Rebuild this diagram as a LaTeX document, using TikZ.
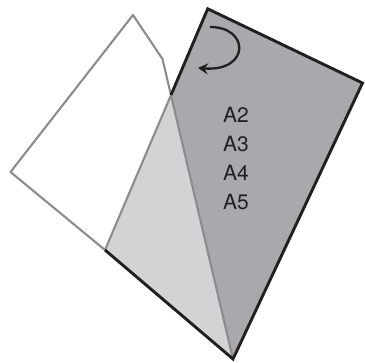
\documentclass[tikz,border=0pt]{standalone}
\usepackage{fontspec}
\setsansfont{TeX Gyre Heros}
\usetikzlibrary{arrows.meta}
\definecolor{sheetdark}{HTML}{A7A9AC}
\definecolor{sheetlight}{HTML}{D1D3D4}
\definecolor{foldgray}{HTML}{8A8C8E}
\definecolor{inkblack}{HTML}{231F20}
\begin{document}
\begin{tikzpicture}[x=1pt, y=-1pt,
  every node/.style={font=\sffamily\fontsize{21}{29}\selectfont, text=inkblack},
  sheetedge/.style={line width=2.9pt, draw=inkblack, line join=miter},
  foldedge/.style={line width=2.1pt, draw=foldgray, line join=round}]

\useasboundingbox (0,0) rectangle (365,363);

% ----------------------------------------------------
% 1. Corner points of the sheet
% ----------------------------------------------------
\coordinate (top)    at (207.7,8.8);
\coordinate (right)  at (362.5,83);
\coordinate (bottom) at (233,359);
\coordinate (left)   at (105,250);
\coordinate (kinkA)  at (162.5,59);
\coordinate (kinkB)  at (133,15);
\coordinate (far)    at (10.5,172);
\coordinate (cross)  at (intersection of top--left and bottom--kinkA);

% ----------------------------------------------------
% 2. Fills: folded part and overlap
% ----------------------------------------------------
\fill[sheetlight] (cross) -- (bottom) -- (left) -- cycle;
\fill[sheetdark] (top) -- (right) -- (bottom) -- (cross) -- cycle;

% ----------------------------------------------------
% 3. Outlines
% ----------------------------------------------------
\draw[foldedge] (bottom) -- (kinkA) -- (kinkB) -- (far) -- (left);
\draw[foldedge] (cross) -- (left);
\draw[sheetedge] (cross) -- (top) -- (right) -- (bottom) -- (left);

% turning arrow
\draw[line width=2.3pt, draw=inkblack, -{Stealth[length=10pt, width=11pt, inset=3.5pt]}]
  (210,27) .. controls (250,27) and (250,72) .. (198,68);

% sizes
\foreach \n [count=\i] in {2,...,5}
  \node (size\n) at (236,{115+29*(\i-1)}) {A\n};

\end{tikzpicture}
\end{document}
